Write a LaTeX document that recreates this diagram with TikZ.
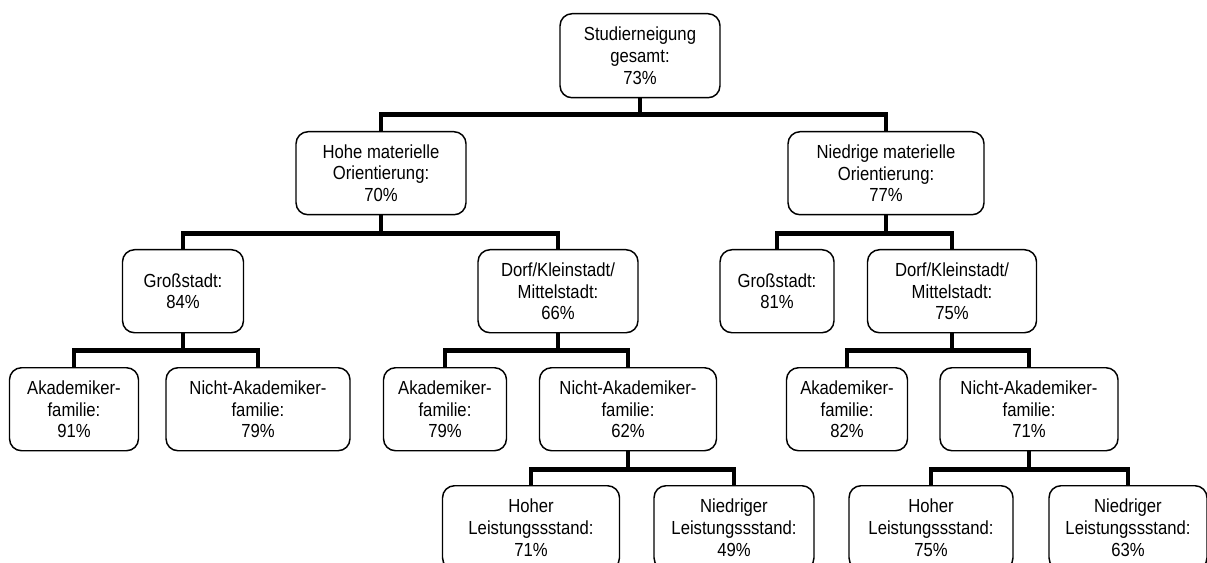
\documentclass[tikz,border=0pt]{standalone}
\usepackage{fontspec}
\setmainfont{Liberation Sans}[FakeStretch=0.88]
\usepackage{tikz}

\begin{document}
\begin{tikzpicture}[
  x=0.75pt, y=-0.75pt,
  box/.style={draw, line width=1.1pt, rounded corners=9pt, anchor=north, align=center, font=\fontsize{14.2}{16.2}\selectfont, inner sep=1pt, minimum height=62.25pt},
  link/.style={line width=3.5pt, line join=miter}
]
\useasboundingbox (0,0) rectangle (1207,563);

\node[box, minimum width=120pt, minimum height=63pt] (root) at (640,13) {Studierneigung\\ gesamt:\\ 73\%};

\node[box, minimum width=127.5pt] (hohe) at (381,131) {Hohe materielle\\ Orientierung:\\ 70\%};
\node[box, minimum width=147pt] (niedrig) at (886,131) {Niedrige materielle\\ Orientierung:\\ 77\%};

\node[box, minimum width=90.75pt] (gross1) at (183,249) {Großstadt:\\ 84\%};
\node[box, minimum width=120pt] (dorf1) at (558,249) {Dorf/Kleinstadt/\\ Mittelstadt:\\ 66\%};
\node[box, minimum width=85.5pt] (gross2) at (777,249) {Großstadt:\\ 81\%};
\node[box, minimum width=126.75pt] (dorf2) at (952,249) {Dorf/Kleinstadt/\\ Mittelstadt:\\ 75\%};

\node[box, minimum width=96.75pt] (akad1) at (74,367) {Akademiker-\\ familie:\\ 91\%};
\node[box, minimum width=138pt] (nakad1) at (258,367) {Nicht-Akademiker-\\ familie:\\ 79\%};
\node[box, minimum width=92.25pt] (akad2) at (445,367) {Akademiker-\\ familie:\\ 79\%};
\node[box, minimum width=132.75pt] (nakad2) at (628,367) {Nicht-Akademiker-\\ familie:\\ 62\%};
\node[box, minimum width=90.75pt] (akad3) at (847,367) {Akademiker-\\ familie:\\ 82\%};
\node[box, minimum width=133.5pt] (nakad3) at (1029,367) {Nicht-Akademiker-\\ familie:\\ 71\%};

\node[box, minimum width=132.75pt, minimum height=63pt] (hoch2) at (531,485) {Hoher\\ Leistungssstand:\\ 71\%};
\node[box, minimum width=120pt, minimum height=63pt] (niedr2) at (734,485) {Niedriger\\ Leistungssstand:\\ 49\%};
\node[box, minimum width=123pt, minimum height=63pt] (hoch3) at (931,485) {Hoher\\ Leistungssstand:\\ 75\%};
\node[box, minimum width=118.5pt, minimum height=63pt] (niedr3) at (1128,485) {Niedriger\\ Leistungssstand:\\ 63\%};

% tree connectors
\draw[link] (root.south) -- ++(0,16) coordinate (b0);
\draw[link] (hohe.north) |- (b0) -| (niedrig.north);
\draw[link] (hohe.south) -- ++(0,18) coordinate (b1);
\draw[link] (gross1.north) |- (b1) -| (dorf1.north);
\draw[link] (niedrig.south) -- ++(0,18) coordinate (b2);
\draw[link] (gross2.north) |- (b2) -| (dorf2.north);
\draw[link] (gross1.south) -- ++(0,17) coordinate (b3);
\draw[link] (akad1.north) |- (b3) -| (nakad1.north);
\draw[link] (dorf1.south) -- ++(0,17) coordinate (b4);
\draw[link] (akad2.north) |- (b4) -| (nakad2.north);
\draw[link] (dorf2.south) -- ++(0,17) coordinate (b5);
\draw[link] (akad3.north) |- (b5) -| (nakad3.north);
\draw[link] (nakad2.south) -- ++(0,18) coordinate (b6);
\draw[link] (hoch2.north) |- (b6) -| (niedr2.north);
\draw[link] (nakad3.south) -- ++(0,18) coordinate (b7);
\draw[link] (hoch3.north) |- (b7) -| (niedr3.north);
\end{tikzpicture}
\end{document}
